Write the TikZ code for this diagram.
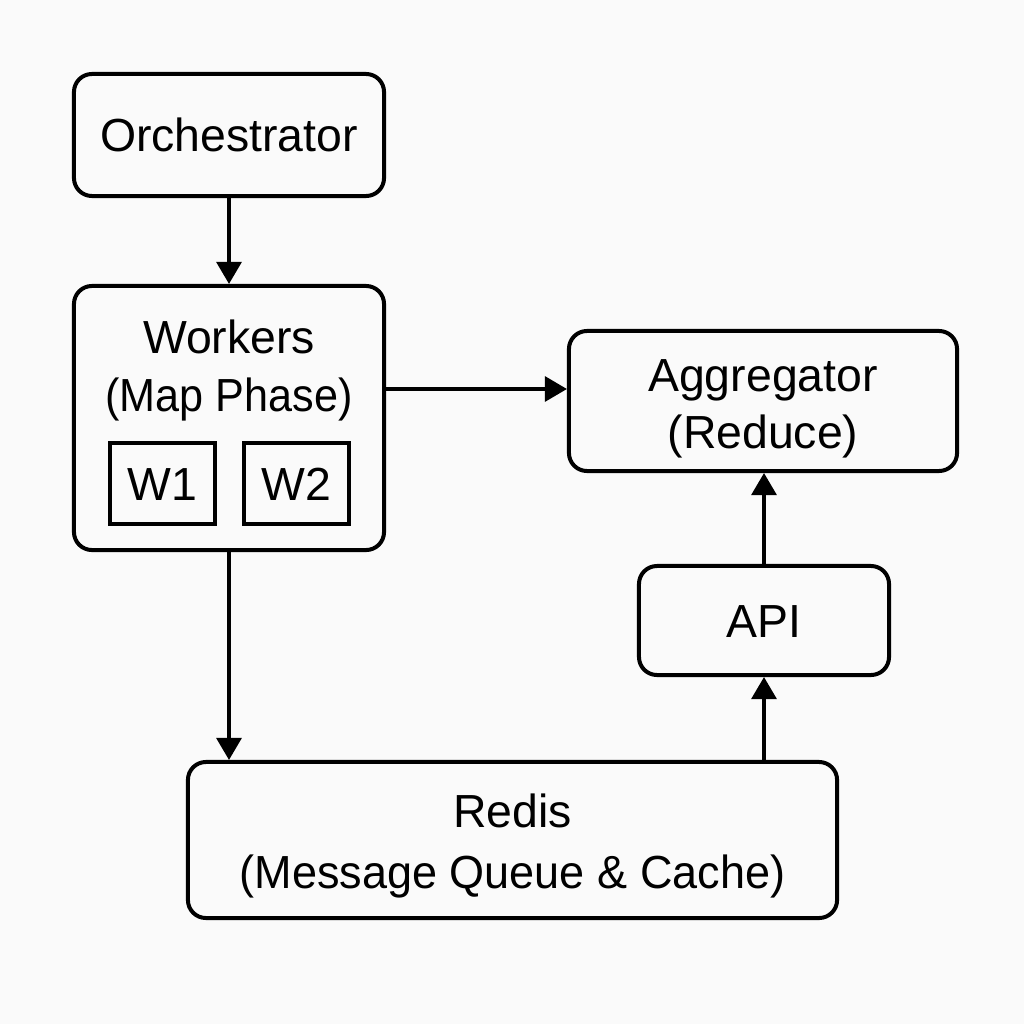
\documentclass[tikz,border=0pt]{standalone}
\usepackage{fontspec}
\setmainfont{Liberation Sans}
\usetikzlibrary{arrows.meta}
\begin{document}
\begin{tikzpicture}[x=0.025cm,y=-0.025cm,
 box/.style={draw, line width=0.1cm, rounded corners=0.45cm, inner sep=0},
 sqbox/.style={draw, line width=0.1cm, inner sep=0},
 lbl/.style={anchor=base, inner sep=0, font=\fontsize{33}{40}\selectfont},
 arr/.style={line width=0.09cm, -{Triangle[length=0.55cm,width=0.62cm]}}]
\fill[white!98!black] (0,0) rectangle (1024,1024);
% boxes
\node[box, minimum width=7.75cm, minimum height=3.05cm] (orch) at (229,135) {};
\node[box, minimum width=7.75cm, minimum height=6.6cm] (work) at (229,418) {};
\node[sqbox, minimum width=2.625cm, minimum height=2.025cm] (w1) at (162.5,483.5) {};
\node[sqbox, minimum width=2.625cm, minimum height=2.025cm] (w2) at (296.5,483.5) {};
\node[box, minimum width=9.7cm, minimum height=3.5cm] (agg) at (763,401) {};
\node[box, minimum width=6.25cm, minimum height=2.725cm] (api) at (764,620.5) {};
\node[box, minimum width=16.225cm, minimum height=3.9cm] (redis) at (512.5,840) {};
% labels
\node[lbl] (torch) at (229,151.7) {Orchestrator};
\node[lbl] (twork1) at (229,353) {Workers};
\node[lbl, xscale=0.93] (twork2) at (229,411) {(Map Phase)};
\node[lbl] (tw1) at (162.5,500) {W1};
\node[lbl] (tw2) at (296.5,500) {W2};
\node[lbl] (tagg1) at (763,391) {Aggregator};
\node[lbl] (tagg2) at (763,448) {(Reduce)};
\node[lbl] (tapi) at (764,637) {API};
\node[lbl] (tred1) at (512.5,827) {Redis};
\node[lbl, xscale=0.97] (tred2) at (512.5,888.5) {(Message Queue \& Cache)};
% connectors
\coordinate (r1) at (0,389);
\draw[arr] (orch.south) -- (work.north);
\draw[arr] (work.east |- r1) -- (agg.west |- r1);
\draw[arr] (work.south) -- (redis.north -| work.south);
\draw[arr] (redis.north -| api.south) -- (api.south);
\draw[arr] (api.north) -- (agg.south -| api.north);
\end{tikzpicture}
\end{document}
